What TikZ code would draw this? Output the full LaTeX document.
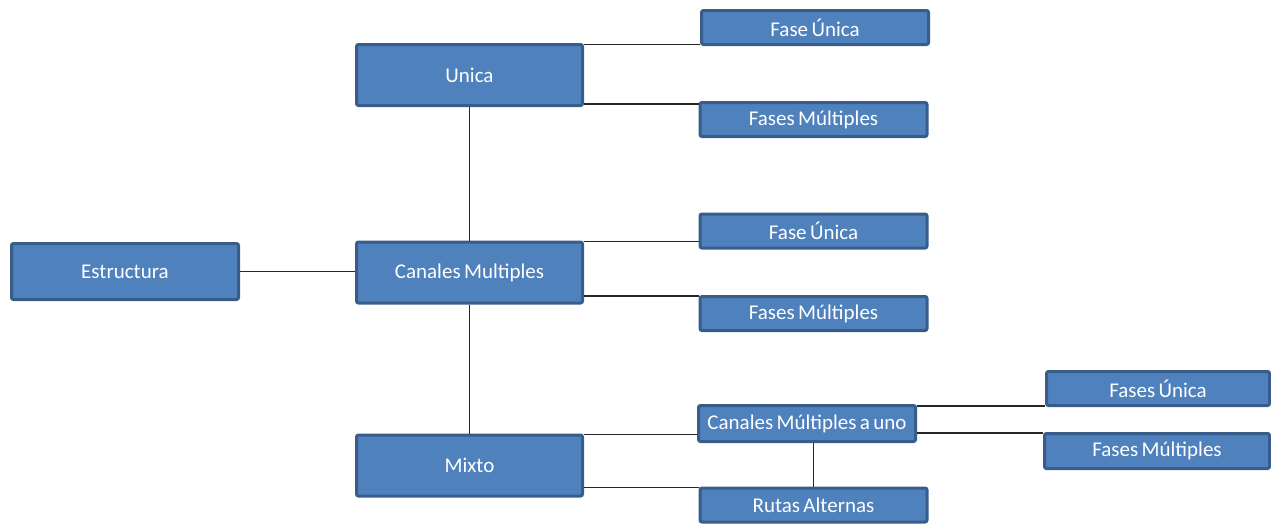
\documentclass[tikz,border=0pt]{standalone}
\usepackage{fontspec}
\setmainfont{Carlito}
\usepackage{xcolor}
\usepackage{tikz}
\definecolor{boxfill}{HTML}{4F81BD}
\definecolor{boxline}{HTML}{385D8A}
\newcommand{\boxfont}{\fontsize{21}{23}\selectfont\spaceskip=0.16em\relax}
\tikzset{
  box/.style={rectangle, draw=boxline, fill=boxfill, line width=3pt, rounded corners=2pt,
    text=white, font=\boxfont, inner sep=0pt},
  bigbox/.style={box, minimum width=226pt, minimum height=61pt},
  smallbox/.style={box, minimum width=227pt, minimum height=34pt},
  link/.style={draw=black!85, line width=1.5pt}
}

\begin{document}
\begin{tikzpicture}[x=1pt, y=-1pt]
  \useasboundingbox (0,0) rectangle (1271,525);
  % level 1 and 2
  \node (estructura) [bigbox, minimum height=56pt, minimum width=227pt] at (125,271.5) {Estructura};
  \node (unica) [bigbox] at (469.5,75) {Unica};
  \node (canales) [bigbox] at (469.5,272.5) {Canales Multiples};
  \node (mixto) [bigbox] at (469.5,465.5) {Mixto};
  % level 3
  \node (faseA) [smallbox] at (815,27.5) {Fase Única};
  \node (fasesA) [smallbox] at (813.5,119.5) {Fases Múltiples};
  \node (faseB) [smallbox] at (813.5,231) {Fase Única};
  \node (fasesB) [smallbox] at (813.5,313.5) {Fases Múltiples};
  \node (multuno) [smallbox, minimum width=217pt, minimum height=36pt] at (807,423.5) {Canales Múltiples a uno};
  \node (rutas) [smallbox] at (813.5,505) {Rutas Alternas};
  % level 4
  \node (faseC) [smallbox, minimum width=223pt] at (1158,388.5) {Fases Única};
  \node (fasesC) [smallbox, minimum width=225pt, minimum height=35pt] at (1157,451) {Fases Múltiples};
  % connectors
  \draw[link] (estructura.east) -- (estructura.east -| canales.west);
  \draw[link] (unica.south) -- (canales.north);
  \draw[link] (canales.south) -- (mixto.north);
  \draw[link] ([yshift=-1.5pt]unica.north east) -- ([yshift=-1.5pt]unica.north east -| faseA.west);
  \draw[link] ([yshift=3pt]unica.south east) -- ([yshift=3pt]unica.south east -| fasesA.west);
  \draw[link] ([yshift=-1pt]canales.north east) -- ([yshift=-1pt]canales.north east -| faseB.west);
  \draw[link] ([yshift=-1pt]fasesB.north west -| canales.east) -- ([yshift=-1pt]fasesB.north west);
  \draw[link] ([yshift=-1pt]mixto.north east) -- ([yshift=-1pt]mixto.north east -| multuno.west);
  \draw[link] ([yshift=-1pt]rutas.north west -| mixto.east) -- ([yshift=-1pt]rutas.north west);
  \draw[link] (multuno.south -| rutas.north) -- (rutas.north);
  \draw[link] ([yshift=-2pt]multuno.north east) -- ([yshift=-2pt]multuno.north east -| faseC.west);
  \draw[link] ([yshift=-1pt]fasesC.north west -| multuno.east) -- ([yshift=-1pt]fasesC.north west);
\end{tikzpicture}
\end{document}
